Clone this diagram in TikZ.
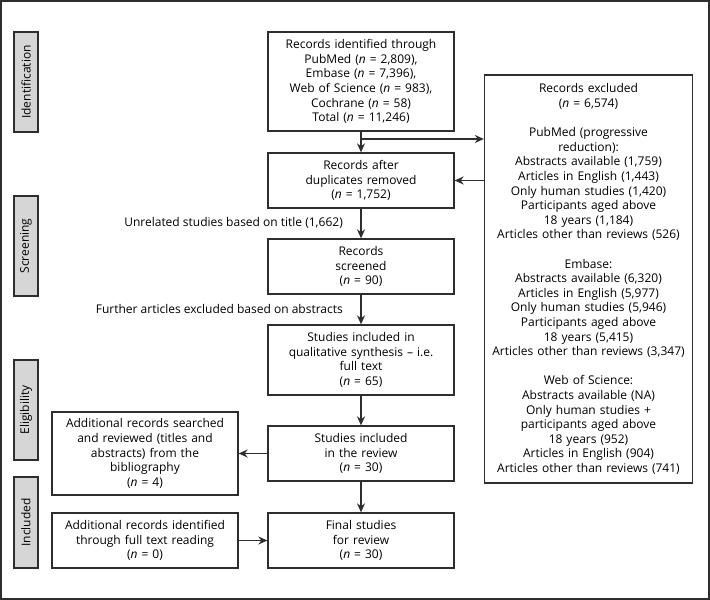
\documentclass[tikz,border=0pt]{standalone}
\usepackage{fontspec}
\setmainfont{Open Sans}
\usepackage{tikz}
\usetikzlibrary{arrows.meta, positioning, calc}

\definecolor{edgegray}{HTML}{2E2E2E}
\definecolor{stagegray}{HTML}{D6D6D6}
\newcommand{\nn}{\textit{n}}

\tikzset{
    flowbox/.style={draw=edgegray, line width=1.3pt, align=center, minimum width=186pt,
        text width=182pt, inner sep=2pt, font=\fontsize{12}{14.6}\selectfont},
    stagebox/.style={draw=edgegray, fill=stagegray, line width=1.3pt, minimum width=24pt,
        rotate=90, inner sep=1pt, font=\fontsize{12}{12}\selectfont},
    flowarrow/.style={-{Stealth[length=9pt, width=8pt]}, draw=edgegray, line width=1.3pt},
    sidenote/.style={anchor=east, inner sep=0pt, font=\fontsize{12}{12}\selectfont}
}

\begin{document}
\begin{tikzpicture}[x=1pt, y=-1pt]
    \useasboundingbox (0,0) rectangle (710,600);
    \draw[edgegray, line width=1.5pt] (1,1) rectangle (709,599);

    % Stage labels
    \node[stagebox, minimum width=100pt, minimum height=24pt] (stageid) at (26,82) {Identification};
    \node[stagebox, minimum width=100pt, minimum height=24pt] (stagescr) at (26,246) {Screening};
    \node[stagebox, minimum width=100pt, minimum height=24pt] (stageelig) at (26,410) {Eligibility};
    \node[stagebox, minimum width=91pt, minimum height=24pt] (stageinc) at (26,522.5) {Included};

    % Main column
    \node[flowbox, minimum height=99pt] (ident) at (361,81.5) {Records identified through\\
        PubMed (\nn{} = 2,809),\\ Embase (\nn{} = 7,396),\\ Web of Science (\nn{} = 983),\\
        Cochrane (\nn{} = 58)\\ Total (\nn{} = 11,246)};
    \node[flowbox, minimum height=55pt] (dup) at (361,180.5) {Records after\\ duplicates removed\\ (\nn{} = 1,752)};
    \node[flowbox, minimum height=55pt] (screen) at (361,266.5) {Records\\ screened\\ (\nn{} = 90)};
    \node[flowbox, minimum height=70pt] (synth) at (361,360) {Studies included in\\
        qualitative synthesis -- i.e.\\ full text\\ (\nn{} = 65)};
    \node[flowbox, minimum height=55pt] (review) at (361,453.5) {Studies included\\ in the review\\ (\nn{} = 30)};
    \node[flowbox, minimum height=55pt] (final) at (361,540.5) {Final studies\\ for review\\ (\nn{} = 30)};

    % Left column
    \node[flowbox, minimum height=83pt] (biblio) at (145,453.5) {Additional records searched\\
        and reviewed (titles and\\ abstracts) from the\\ bibliography\\ (\nn{} = 4)};
    \node[flowbox, minimum height=55pt] (fulltext) at (145,540.5) {Additional records identified\\
        through full text reading\\ (\nn{} = 0)};

    % Exclusions
    \node[flowbox, minimum width=207pt, text width=204pt, minimum height=408pt] (excl) at (588.5,279) {%
        Records excluded\\ (\nn{} = 6,574)\\[14.6pt]
        PubMed (progressive\\ reduction):\\ Abstracts available (1,759)\\ Articles in English (1,443)\\
        Only human studies (1,420)\\ Participants aged above\\ 18 years (1,184)\\
        Articles other than reviews (526)\\[14.6pt]
        Embase:\\ Abstracts available (6,320)\\ Articles in English (5,977)\\
        Only human studies (5,946)\\ Participants aged above\\ 18 years (5,415)\\
        Articles other than reviews (3,347)\\[14.6pt]
        Web of Science:\\ Abstracts available (NA)\\ Only human studies +\\
        participants aged above\\ 18 years (952)\\ Articles in English (904)\\
        Articles other than reviews (741)};

    % Side notes
    \node[sidenote] (notetitle) at (343,223) {Unrelated studies based on title (1,662)};
    \node[sidenote] (noteabs) at (343,309) {Further articles excluded based on abstracts};

    % Connectors
    \coordinate (split) at (361,139);
    \draw[flowarrow] (ident.south) -- (dup.north);
    \draw[flowarrow] (split) -- (split -| excl.west);
    \draw[flowarrow] (excl.west |- dup.east) -- (dup.east);
    \draw[flowarrow] (dup.south) -- (screen.north);
    \draw[flowarrow] (screen.south) -- (synth.north);
    \draw[flowarrow] (synth.south) -- (review.north);
    \draw[flowarrow] (review.west) -- (biblio.east);
    \draw[flowarrow] (review.south) -- (final.north);
    \draw[flowarrow] (fulltext.east) -- (final.west);
\end{tikzpicture}
\end{document}
